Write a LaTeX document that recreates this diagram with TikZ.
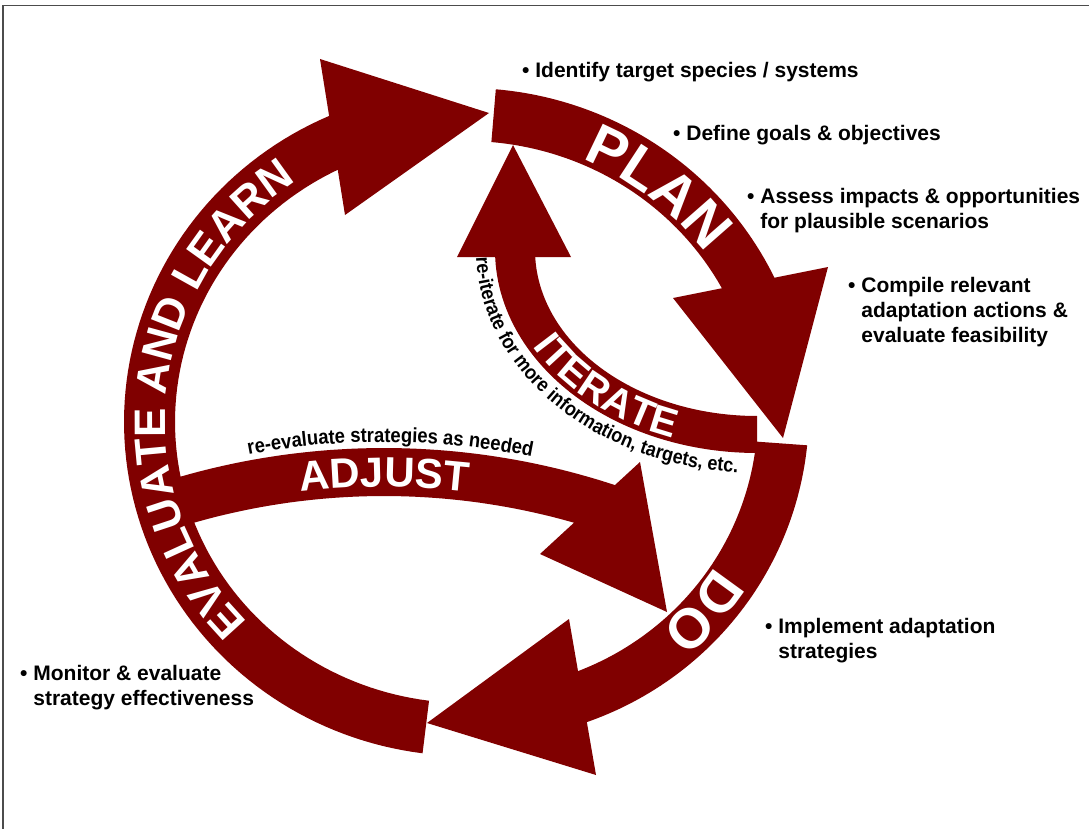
\documentclass[tikz,border=0pt]{standalone}
\usepackage{fontspec}
\setmainfont{Liberation Sans}
\newfontfamily\condfont{Liberation Sans}[FakeStretch=0.9]
\usetikzlibrary{decorations.text}
\definecolor{maroon}{RGB}{128,0,0}
\begin{document}
\begin{tikzpicture}[x=1pt,y=-1pt,
  band/.style={fill=maroon},
  head/.style={fill=maroon},
  bullet/.style={anchor=base west, inner sep=0pt, font=\bfseries\fontsize{21}{25}\selectfont, text=black},
  curvetext/.style={decorate, decoration={text along path, text color=white, text align=center}},
  smalltext/.style={decorate, decoration={text along path, text color=black}},
]
\useasboundingbox (0,0) rectangle (1089,829);
\draw[black!70, line width=1.5pt] (3,829) -- (3,5.5) -- (1089,5.5);

% EVALUATE AND LEARN band + head
\fill[band] plot[domain=97.3:248,samples=90,variable=\q] ({466+342*cos(\q)},{422+334*sin(\q)})
  -- plot[domain=248:97.3,samples=90,variable=\q] ({466+291*cos(\q)},{422+281*sin(\q)}) -- cycle;
\fill[head] (320,59) -- (345,215) -- (489,113) -- cycle;

% PLAN band + head
\fill[band] plot[domain=-85:-24,samples=60,variable=\q] ({466+342*cos(\q)},{422+334*sin(\q)})
  -- plot[domain=-24:-85,samples=60,variable=\q] ({466+291*cos(\q)},{422+281*sin(\q)}) -- cycle;
\fill[head] (673,298) -- (828,267) -- (783,438) -- cycle;

% DO band + head
\fill[band] plot[domain=4:70,samples=60,variable=\q] ({466+342*(1-0.00053*(\q-4))*cos(\q)},{422+334*(1-0.00053*(\q-4))*sin(\q)})
  -- plot[domain=70:4,samples=60,variable=\q] ({466+291*(1-0.00053*(\q-4))*cos(\q)},{422+281*(1-0.00053*(\q-4))*sin(\q)}) -- cycle;
\fill[head] (569,619) -- (596,775) -- (427,723) -- cycle;

% ITERATE band + head
\fill[band] plot[domain=90:182,samples=60,variable=\q] ({757+262*cos(\q)},{250+203*sin(\q)})
  -- plot[domain=182:90,samples=60,variable=\q] ({757+222*cos(\q)},{250+166*sin(\q)}) -- cycle;
\fill[head] (457,257) -- (571,257) -- (513,145) -- cycle;

% ADJUST band + head
\fill[band] plot[domain=-107:-70,samples=50,variable=\q] ({384+738*cos(\q)},{1186+738*sin(\q)})
  -- plot[domain=-70:-107,samples=50,variable=\q] ({384+690*cos(\q)},{1186+690*sin(\q)}) -- cycle;
\fill[head] (540,554) -- (640,462) -- (667,612) -- cycle;

% curved labels
\path[curvetext, decoration={text={|\bfseries\fontsize{44}{50}\selectfont|EVALUATE AND LEARN}}]
  plot[domain=112:260,samples=120,variable=\q] ({466+301*cos(\q)},{422+291*sin(\q)});
\path[curvetext, decoration={text={|\bfseries\fontsize{58}{60}\selectfont|PLAN}}]
  plot[domain=-99:-3,samples=100,variable=\q] ({466+296*cos(\q)},{422+286*sin(\q)});
\path[curvetext, decoration={text={|\bfseries\fontsize{56}{60}\selectfont|DO}}]
  plot[domain=0:78,samples=80,variable=\q] ({466+290*cos(\q)},{422+280*sin(\q)});
\path[curvetext, decoration={text={|\bfseries\fontsize{40}{44}\selectfont|ITERATE}}]
  plot[domain=181:85,samples=100,variable=\q] ({757+256.5*cos(\q)},{250+198.5*sin(\q)});
\path[curvetext, decoration={text={|\bfseries\fontsize{42}{46}\selectfont|ADJUST}}]
  plot[domain=-115:-65,samples=80,variable=\q] ({384+699*cos(\q)},{1186+699*sin(\q)});
\path[smalltext, decoration={text align=center, text={|\condfont\bfseries\fontsize{20.5}{24}\selectfont|re-evaluate strategies as needed}}]
  plot[domain=-115:-64,samples=80,variable=\q] ({384+744*cos(\q)},{1186+744*sin(\q)});
\path[smalltext, decoration={text align=left, text={|\condfont\bfseries\fontsize{20}{24}\selectfont|re-iterate for more information, targets, etc.}}]
  plot[domain=178:60,samples=120,variable=\q] ({757+281*cos(\q)},{250+223*sin(\q)});

% bullet texts
\node[bullet] (b1) at (522,78) {• Identify target species / systems};
\node[bullet] (b2) at (673,141) {• Define goals \& objectives};
\node[bullet] (b3) at (747,204) {• \begin{tabular}[t]{@{}l@{}}Assess impacts \& opportunities\\for plausible scenarios\end{tabular}};
\node[bullet] (b4) at (848,292) {• \begin{tabular}[t]{@{}l@{}}Compile relevant\\adaptation actions \&\\evaluate feasibility\end{tabular}};
\node[bullet] (b5) at (765,633) {• \begin{tabular}[t]{@{}l@{}}Implement adaptation\\strategies\end{tabular}};
\node[bullet] (b6) at (20,680) {• \begin{tabular}[t]{@{}l@{}}Monitor \& evaluate\\strategy effectiveness\end{tabular}};
\end{tikzpicture}
\end{document}
